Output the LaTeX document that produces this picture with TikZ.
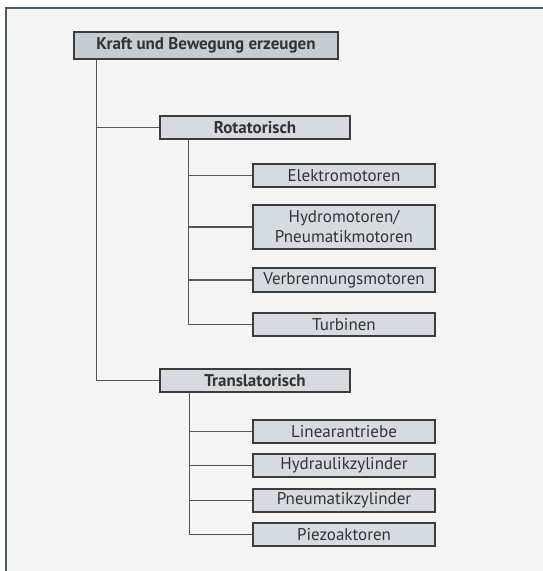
\documentclass[tikz,border=0pt]{standalone}
\usepackage{fontspec}
\setmainfont{PT Sans}
\definecolor{framec}{HTML}{4B5A63}
\definecolor{bgc}{HTML}{F5F5F5}
\definecolor{rootfill}{HTML}{C5CCD2}
\definecolor{boxfill}{HTML}{D5DBE1}
\definecolor{boxline}{HTML}{3C3C3C}
\definecolor{linec}{HTML}{555555}
\definecolor{txtc}{HTML}{333333}
\begin{document}
\begin{tikzpicture}[x=1pt,y=-1pt,
  box/.style={draw=boxline,line width=1.3pt,fill=boxfill,text=txtc,inner sep=0pt,anchor=center,font=\fontsize{17}{20}\selectfont,align=center},
  rootbox/.style={box,fill=rootfill,font=\fontsize{17}{20}\selectfont\bfseries},
  midbox/.style={box,font=\fontsize{17}{20}\selectfont\bfseries},
  conn/.style={draw=linec,line width=1.1pt}]
\useasboundingbox (0,0) rectangle (543,571);
\fill[bgc] (6,8) rectangle (543,571);
\draw[framec,line width=2pt] (6,571) -- (6,8) -- (543,8);

\node[rootbox,minimum width=264pt,minimum height=27pt] (root) at (206,45.5) {Kraft und Bewegung erzeugen};
\node[midbox,minimum width=190pt,minimum height=23pt] (rot) at (255,127.5) {Rotatorisch};
\node[midbox,minimum width=190pt,minimum height=23pt] (trans) at (255,380.5) {Translatorisch};

\node[box,minimum width=182pt,minimum height=23pt] (elek) at (344,175.5) {Elektromotoren};
\node[box,minimum width=182pt,minimum height=44pt] (hydro) at (344,227) {Hydromotoren/\\Pneumatikmotoren};
\node[box,minimum width=182pt,minimum height=24pt] (verb) at (344,280) {Verbrennungsmotoren};
\node[box,minimum width=182pt,minimum height=23pt] (turb) at (344,324.5) {Turbinen};

\node[box,minimum width=182pt,minimum height=23pt] (lin) at (344,431.5) {Linearantriebe};
\node[box,minimum width=182pt,minimum height=23pt] (hyz) at (344,465.5) {Hydraulikzylinder};
\node[box,minimum width=182pt,minimum height=23pt] (pnz) at (344,500.5) {Pneumatikzylinder};
\node[box,minimum width=182pt,minimum height=23pt] (piezo) at (344,534.5) {Piezoaktoren};

\coordinate (t0) at ([xshift=23pt]root.south west);
\coordinate (t1) at ([xshift=29pt]rot.south west);
\coordinate (t2) at ([xshift=30pt]trans.south west);

\draw[conn] (t0) |- (rot.west);
\draw[conn] (t0) |- (trans.west);
\draw[conn] (t1) |- (elek.west);
\draw[conn] (t1) |- (hydro.west);
\draw[conn] (t1) |- (verb.west);
\draw[conn] (t1) |- (turb.west);
\draw[conn] (t2) |- (lin.west);
\draw[conn] (t2) |- (hyz.west);
\draw[conn] (t2) |- (pnz.west);
\draw[conn] (t2) |- (piezo.west);
\end{tikzpicture}
\end{document}
